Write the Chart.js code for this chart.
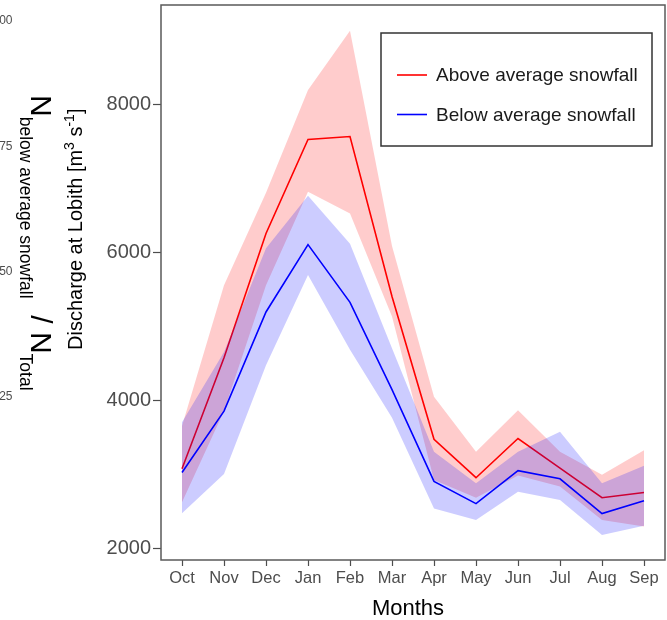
<!DOCTYPE html>
<html>
<head>
<meta charset="utf-8">
<script src="https://cdn.jsdelivr.net/npm/chart.js@4.4.1/dist/chart.umd.min.js"></script>
<style>
    body { margin: 0; background: #fff; }
    #wrap { width: 667px; height: 620px; }
</style>
</head>
<body>
<div id="wrap"><canvas id="descargaChart" width="667" height="620"></canvas></div>
<script>
// Meses do ano hidrológico
const meses = ['Oct', 'Nov', 'Dec', 'Jan', 'Feb', 'Mar', 'Apr', 'May', 'Jun', 'Jul', 'Aug', 'Sep'];

// Anos com neve acima da média (m³/s)
const acimaMedia = [3070, 4570, 6250, 7520, 7560, 5400, 3470, 2950, 3480, 3080, 2680, 2750];
const acimaSup   = [3650, 5550, 6800, 8190, 8990, 6080, 4045, 3300, 3860, 3300, 2990, 3320];
const acimaInf   = [2620, 3850, 5550, 6815, 6520, 5130, 2920, 2680, 2980, 2830, 2380, 2290];

// Anos com neve abaixo da média (m³/s)
const abaixoMedia = [3020, 3850, 5190, 6100, 5320, 4140, 2900, 2600, 3045, 2935, 2465, 2640];
const abaixoSup   = [3700, 4650, 6050, 6760, 6110, 4700, 3300, 2875, 3300, 3570, 2875, 3110];
const abaixoInf   = [2470, 3000, 4470, 5690, 4680, 3760, 2535, 2380, 2760, 2650, 2175, 2300];

const marcasY = [2000, 4000, 6000, 8000];
// rótulos do painel vizinho (razão N)
const marcasRazao = ['1.00', '0.75', '0.50', '0.25'];

const fonte = '"Liberation Sans", Arial, sans-serif';
const vermelho = '#ff0000';
const azul = '#0000ff';

// Escreve partes de texto em sequência (para subscrito / sobrescrito)
function escreverPartes(ctx, partes) {
    let x = 0;
    partes.forEach(p => {
        ctx.font = p.tamanho + 'px ' + fonte;
        ctx.fillText(p.texto, x, p.desloc || 0);
        x += ctx.measureText(p.texto).width;
    });
}

const rotulos = {
    id: 'rotulos',
    afterDraw(chart) {
        const ctx = chart.ctx;
        const area = chart.chartArea;
        ctx.save();

        // moldura do painel
        ctx.strokeStyle = '#5a5a5a';
        ctx.lineWidth = 1.5;
        ctx.strokeRect(area.left, area.top, area.right - area.left, area.bottom - area.top);

        // legenda
        ctx.strokeStyle = '#333';
        ctx.lineWidth = 1.5;
        ctx.strokeRect(381, 33, 271, 113);
        const itens = [['Above average snowfall', vermelho, 75], ['Below average snowfall', azul, 114.5]];
        itens.forEach(([texto, cor, y]) => {
            ctx.strokeStyle = cor;
            ctx.lineWidth = 1.6;
            ctx.beginPath();
            ctx.moveTo(397, y);
            ctx.lineTo(427, y);
            ctx.stroke();
            ctx.fillStyle = '#1a1a1a';
            ctx.font = '19px ' + fonte;
            ctx.textBaseline = 'middle';
            ctx.textAlign = 'left';
            ctx.fillText(texto, 436, y + 1);
        });

        // título do eixo x
        ctx.fillStyle = '#000';
        ctx.font = '22px ' + fonte;
        ctx.textAlign = 'center';
        ctx.textBaseline = 'alphabetic';
        ctx.fillText('Months', 408, 615);

        // título do eixo y com sobrescritos
        ctx.save();
        ctx.translate(82, 350);
        ctx.rotate(-Math.PI / 2);
        ctx.textAlign = 'left';
        escreverPartes(ctx, [
            { texto: 'Discharge at Lobith [m', tamanho: 20 },
            { texto: '3', tamanho: 14, desloc: -8 },
            { texto: ' s', tamanho: 20 },
            { texto: '-1', tamanho: 14, desloc: -8 },
            { texto: ']', tamanho: 20 }
        ]);
        ctx.restore();

        // rótulo do painel vizinho, cortado na borda
        ctx.save();
        ctx.translate(31, 95);
        ctx.rotate(Math.PI / 2);
        ctx.textAlign = 'left';
        escreverPartes(ctx, [
            { texto: 'N', tamanho: 30 },
            { texto: 'below average snowfall', tamanho: 17.5, desloc: 11 },
            { texto: '  / ', tamanho: 30 },
            { texto: 'N', tamanho: 30 },
            { texto: 'Total', tamanho: 17.5, desloc: 11 }
        ]);
        ctx.restore();

        ctx.fillStyle = '#4d4d4d';
        ctx.font = '12px ' + fonte;
        ctx.textAlign = 'right';
        ctx.textBaseline = 'middle';
        marcasRazao.forEach((t, i) => ctx.fillText(t, 12.5, 21 + i * 125.3));

        ctx.restore();
    }
};

function faixa(dados, cor, ordem, preencher) {
    return {
        data: dados,
        borderWidth: 0,
        borderColor: 'rgba(0,0,0,0)',
        backgroundColor: cor,
        pointRadius: 0,
        fill: preencher,
        order: ordem,
        tension: 0
    };
}

function linha(dados, cor, ordem) {
    return {
        data: dados,
        borderColor: cor,
        borderWidth: 1.6,
        pointRadius: 0,
        fill: false,
        order: ordem,
        tension: 0
    };
}

const ctx = document.getElementById('descargaChart').getContext('2d');
new Chart(ctx, {
    type: 'line',
    data: {
        labels: meses,
        datasets: [
            faixa(acimaSup, 'rgba(255,0,0,0.2)', 3, '+1'),
            faixa(acimaInf, 'rgba(255,0,0,0.2)', 3, false),
            linha(acimaMedia, vermelho, 2),
            faixa(abaixoSup, 'rgba(0,0,255,0.2)', 1, '+1'),
            faixa(abaixoInf, 'rgba(0,0,255,0.2)', 1, false),
            linha(abaixoMedia, azul, 0)
        ]
    },
    options: {
        responsive: false,
        animation: false,
        devicePixelRatio: 1,
        layout: { padding: { left: 0, right: 2, top: 5, bottom: 0 } },
        plugins: {
            legend: { display: false },
            tooltip: { enabled: false }
        },
        scales: {
            x: {
                type: 'category',
                offset: true,
                afterFit: s => { s.height = 60; s.paddingLeft = 0; s.paddingRight = 0; },
                ticks: {
                    font: { family: fonte, size: 16.5 },
                    color: '#4d4d4d',
                    padding: 3,
                    maxRotation: 0,
                    autoSkip: false
                },
                grid: { drawOnChartArea: false, offset: false, tickLength: 6, tickColor: '#4d4d4d', tickWidth: 1.2 },
                border: { display: false }
            },
            y: {
                min: 1838,
                max: 9338,
                afterBuildTicks: s => { s.ticks = marcasY.map(v => ({ value: v })); },
                afterFit: s => { s.width = 161; s.paddingTop = 0; s.paddingBottom = 0; },
                ticks: {
                    font: { family: fonte, size: 20 },
                    color: '#4d4d4d',
                    padding: 2,
                    callback: v => String(v)
                },
                grid: { drawOnChartArea: false, tickLength: 8, tickColor: '#4d4d4d', tickWidth: 1.2 },
                border: { display: false }
            }
        }
    },
    plugins: [rotulos]
});
</script>
</body>
</html>
